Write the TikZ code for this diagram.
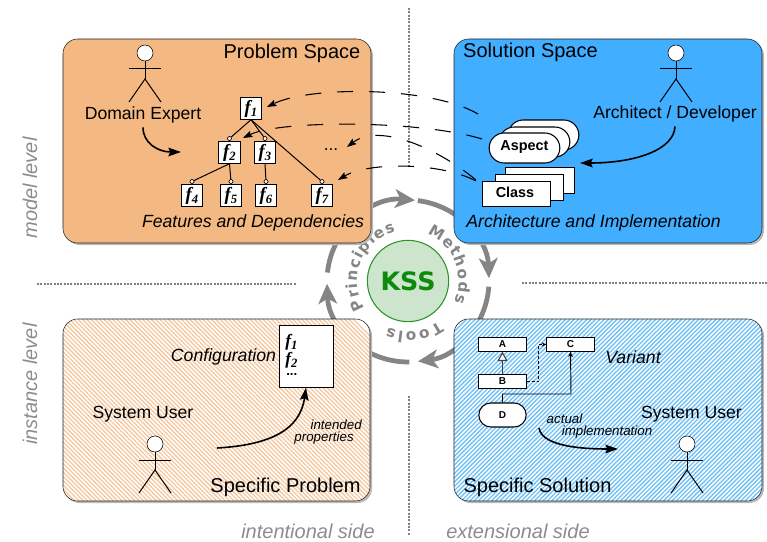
\documentclass[tikz,border=0pt]{standalone}
\usepackage{fontspec}
\setmainfont{Liberation Sans}
\newfontfamily\fserif{Liberation Serif}
\newfontfamily\dejavu{DejaVu Sans}
\usetikzlibrary{arrows.meta,decorations.text,shapes.misc}
\definecolor{orfill}{HTML}{F4B983}
\definecolor{blfill}{HTML}{42AEFF}
\definecolor{orhatch}{HTML}{F5C8A0}
\definecolor{blhatch}{HTML}{72C2F8}
\definecolor{ringgray}{HTML}{858585}
\definecolor{sidegray}{HTML}{8C8C8C}
\definecolor{dotgray}{HTML}{808080}
\definecolor{kssfill}{HTML}{CDE4CD}
\definecolor{kssline}{HTML}{2A962A}
\definecolor{ksstext}{HTML}{0B8A0B}
\definecolor{edge}{HTML}{202020}
\newcommand{\fsz}[1]{\fontsize{#1}{#1}\selectfont}
\newcommand{\ff}[2][14]{{\fserif\bfseries\itshape\fsz{#1}f\raisebox{-.35ex}{\fsz{9.5}#2}}}
\tikzset{
  x=.75pt,y=-.75pt,line width=.75pt,
  spacebox/.style={draw=edge,rounded corners=11pt,minimum width=#1*.75pt,inner sep=0pt},
  big/.style={font=\fsz{15},text=black,inner sep=0pt},
  mid/.style={font=\fsz{13.2},text=black,inner sep=0pt},
  midit/.style={font=\fsz{13.25}\itshape,text=black,inner sep=0pt},
  smallit/.style={font=\fsz{10}\itshape,text=black,inner sep=0pt},
  sidelab/.style={font=\fsz{15}\itshape,text=sidegray,inner sep=0pt},
  fbox/.style={draw=black,fill=white,minimum size=16pt,inner sep=0pt,line width=.8pt},
  port/.style={circle,draw=black,fill=white,minimum size=3pt,inner sep=0pt,line width=.5pt},
  dep/.style={line width=.75pt},
  head/.style={circle,draw=black,fill=white,minimum size=12pt,inner sep=0pt},
  limb/.style={line width=.75pt},
  thick curve/.style={line width=1.2pt,-{Stealth[length=9.5pt,width=6.5pt,inset=1.5pt]}},
  trace/.style={line width=.8pt,dash pattern=on 12pt off 12pt,-{Stealth[length=7pt,width=5pt,inset=1pt]}},
  dots/.style={dotgray,line width=1.5pt,dash pattern=on 1.5pt off 1pt},
  ringarc/.style={ringgray,line width=3.6pt,-{Stealth[length=15pt,width=14pt,inset=4pt]}},
  pill/.style={rounded rectangle,draw=black,fill=white,minimum width=53pt,minimum height=22.5pt,inner sep=0pt,line width=.8pt},
  classbox/.style={draw=black,fill=white,minimum width=51.5pt,minimum height=19pt,inner sep=0pt,line width=.8pt},
  umlbox/.style={draw=black,fill=white,minimum width=35.5pt,minimum height=10pt,inner sep=0pt,line width=.8pt,font=\fsz{7.5}\bfseries},
  umlpill/.style={rounded rectangle,draw=black,fill=white,minimum width=35.5pt,minimum height=18pt,inner sep=0pt,line width=.8pt,font=\fsz{7.5}\bfseries},
  boldlab/.style={font=\fsz{10.8}\bfseries,inner sep=0pt},
}
\newcommand{\actor}[3]{%
  \begin{scope}[shift={(#1,#2)}]
    \node[head] (#3) at (0,0) {};
    \coordinate (#3hip) at (0,26);
    \coordinate (#3la) at (-16,16);
    \coordinate (#3ra) at (16,16);
    \coordinate (#3lf) at (-16,49);
    \coordinate (#3rf) at (16,49);
    \draw[limb] (#3.south) -- (#3hip);
    \draw[limb] (#3la) -- (#3ra);
    \draw[limb] (#3lf) -- (#3hip) -- (#3rf);
  \end{scope}}
\begin{document}
\begin{tikzpicture}
\useasboundingbox (0,0) rectangle (767,542);
% axes
\coordinate (vt) at (408.5,8); \coordinate (vm) at (408.5,168);
\coordinate (vb) at (408.5,396); \coordinate (ve) at (408.5,535);
\coordinate (hl) at (37,283.5); \coordinate (hm) at (296,283.5);
\coordinate (hr) at (522,283); \coordinate (he) at (767,283);
\draw[dots] (vt) -- (vm);
\draw[dots] (vb) -- (ve);
\draw[dots] (hl) -- (hm);
\draw[dots] (hr) -- (he);
% ring
\begin{scope}[x=.75pt,y=.75pt,shift={(306pt,-210.75pt)}]
  \draw[ringarc] (174:81) arc[start angle=174,end angle=85,radius=81];
  \draw[ringarc] (83:81) arc[start angle=83,end angle=2,radius=81];
  \draw[ringarc] (-4:81) arc[start angle=-4,end angle=-83,radius=81];
  \draw[ringarc] (-89:81) arc[start angle=-89,end angle=-178,radius=81];
  \path[decorate,decoration={text along path,text align=fit to path,
     text={|\dejavu\bfseries\fsz{11.5}\color{ringgray}|Methods}}]
     (68:51) arc[start angle=68,end angle=-24,radius=51];
  \path[decorate,decoration={text along path,text align=fit to path,
     text={|\dejavu\bfseries\fsz{11.5}\color{ringgray}|Principles}}]
     (212:51) arc[start angle=212,end angle=104,radius=51];
  \path[decorate,decoration={text along path,text align=fit to path,
     text={|\dejavu\bfseries\fsz{11.5}\color{ringgray}|Tools}}]
     (-53:51) arc[start angle=-53,end angle=-113,radius=51];
\end{scope}
\node[circle,draw=kssline,fill=kssfill,minimum size=61pt,inner sep=0pt,line width=.8pt,
      font=\dejavu\bfseries\fsz{19},text=ksstext] (kss) at (408,281) {KSS};
% shadows and boxes
\fill[gray!55,rounded corners=11pt] (65,41) rectangle (373,245);
\fill[gray!55,rounded corners=11pt] (456,41) rectangle (764,245);
\fill[gray!55,rounded corners=11pt] (65,321) rectangle (372,503);
\fill[gray!55,rounded corners=11pt] (456,321) rectangle (764,503);
\node[spacebox=308,fill=orfill,minimum height=153pt] (ps) at (217,141) {};
\node[spacebox=308,fill=blfill,minimum height=153pt] (ss) at (608,141) {};
\fill[white,rounded corners=11pt] (63,319) rectangle (370,501);
\fill[white,rounded corners=11pt] (454,319) rectangle (762,501);
\begin{scope}
  \clip[rounded corners=11pt] (63,319) rectangle (370,501);
  \foreach \i in {0,...,110}{\draw[orhatch,line width=1pt] (-120+\i*4.3,319) -- (62+\i*4.3,501);}
\end{scope}
\begin{scope}
  \clip[rounded corners=11pt] (454,319) rectangle (762,501);
  \foreach \i in {0,...,115}{\draw[blhatch,line width=1pt] (454+\i*4.3,319) -- (272+\i*4.3,501);}
\end{scope}
\node[spacebox=307,minimum height=136.5pt] (sp) at (216.5,410) {};
\node[spacebox=308,minimum height=136.5pt] (so) at (608,410) {};
% side labels
\node[sidelab,rotate=90] (lm) at (30,188) {model level};
\node[sidelab,rotate=90] (li) at (30,384) {instance level};
\node[sidelab] (si) at (308,531.5) {intentional side};
\node[sidelab] (se) at (518,531.5) {extensional side};
% problem space
\node[big] (pst) at (292,53) {Problem Space};
\actor{145}{53}{a1}
\node[mid] (de) at (143,115) {Domain Expert};
\coordinate (deto) at (181,152);
\draw[thick curve] (de.south) ++(0,4) coordinate (defrom) .. controls (143,143) and (158,152) .. (deto);
\node[midit] (fd) at (253,223) {Features and Dependencies};
\node[fbox] (f1) at (251,108.5) {\ff{1}};
\node[fbox] (f2) at (229.5,152.5) {\ff{2}};
\node[fbox] (f3) at (265,152.5) {\ff{3}};
\node[fbox] (f4) at (192,195.5) {\ff{4}};
\node[fbox] (f5) at (231,195.5) {\ff{5}};
\node[fbox] (f6) at (266,195.5) {\ff{6}};
\node[fbox] (f7) at (322,195.5) {\ff{7}};
\foreach \n in {2,3,4,5,6,7}{\node[port] (p\n) at ([yshift=2.1pt]f\n.north) {};}
\foreach \a/\b in {f1/p2,f1/p3,f1/p7,f2/p4,f2/p5,f3/p6}{\draw[dep] (\a.south) -- (\b);}
\node[font=\fsz{13},inner sep=0pt] (fdots) at (331,150) {...};
% solution space
\node[big] (sst) at (530.5,52.5) {Solution Space};
\actor{676}{53}{a2}
\node[mid] (ad) at (675,114) {Architect / Developer};
\node[midit] (ai) at (593.5,223) {Architecture and Implementation};
\node[pill] (as3) at (543.5,135) {};
\node[pill] (as2) at (534.5,142) {};
\node[pill] (as1) at (524.5,148) {};
\node[boldlab] (ast) at (524.5,147.5) {Aspect};
\node[classbox] (cl3) at (540,180.5) {};
\node[classbox] (cl2) at (529.5,187.5) {};
\node[classbox] (cl1) at (516.5,194) {};
\node[boldlab] (clt) at (515,192.5) {Class};
\coordinate (adto) at (580,163);
\draw[thick curve] (ad.south) ++(0,4) coordinate (adfrom) .. controls (674,150) and (635,163) .. (adto);
% traces
\coordinate (t1a) at (478,114); \coordinate (t1b) at (267,107);
\coordinate (t2a) at (482,139); \coordinate (t2b) at (243,138);
\coordinate (t3a) at (476,180); \coordinate (t3b) at (347,147);
\coordinate (t4a) at (476,181); \coordinate (t4b) at (338,180);
\draw[trace] (t1a) .. controls (430,86) and (310,86) .. (t1b);
\draw[trace] (t2a) .. controls (420,120) and (280,120) .. (t2b);
\draw[trace] (t3a) .. controls (440,150) and (380,122) .. (t3b);
\draw[trace] (t4a) .. controls (440,162) and (368,162) .. (t4b);
% specific problem
\node[draw=black,fill=white,minimum width=40.5pt,minimum height=46pt,inner sep=0pt,line width=.75pt] (cfg) at (306,356.5) {};
\node[anchor=west,inner sep=0pt] (cf1) at (285,342.5) {\ff[13]{1}};
\node[anchor=west,inner sep=0pt] (cf2) at (285,360) {\ff[13]{2}};
\node[anchor=west,font=\bfseries\fsz{10},inner sep=0pt] (cf3) at (286,375) {...};
\node[midit] (cft) at (223.5,357) {Configuration};
\node[mid] (su1) at (143,414.5) {System User};
\actor{155}{444}{a3}
\node[big] (spt) at (285.5,487.5) {Specific Problem};
\node[smallit,anchor=east] (ip1) at (362,424.5) {intended};
\node[smallit,anchor=east] (ip2) at (354,438.5) {properties};
\coordinate (ipa) at (217,448);
\draw[thick curve] (ipa) .. controls (270,445) and (300,430) .. (cfg.south);
% specific solution
\node[umlbox] (ua) at (502.5,344.5) {A};
\node[umlbox] (uc) at (570.5,344.5) {C};
\node[umlbox] (ub) at (502.5,381.5) {B};
\node[umlpill] (ud) at (502.5,415) {D};
\draw[draw=black!75,line width=.8pt,-{Triangle[open,fill=white,length=7pt,width=7.5pt]}] (ub) -- (ua);
\draw[dashed,dash pattern=on 2.2pt off 1.5pt,line width=.7pt,-{Stealth[length=3.5pt,width=3pt]}] (ub.east) -- ++(12,0) |- (uc.west);
\draw[line width=.7pt,-{Stealth[length=4pt,width=3.5pt]}] (ud.north) |- (571,394) -- (uc.south);
\node[midit] (var) at (633,357) {Variant};
\node[mid] (su2) at (691.5,414.5) {System User};
\actor{687}{444}{a4}
\node[smallit] (ac1) at (564.5,418.5) {actual};
\node[smallit] (ac2) at (607,432.5) {implementation};
\coordinate (ima) at (539,428); \coordinate (imb) at (618,449);
\draw[thick curve] (ima) .. controls (542,447) and (585,449) .. (imb);
\node[big] (sst2) at (537.5,487.5) {Specific Solution};
\end{tikzpicture}
\end{document}
